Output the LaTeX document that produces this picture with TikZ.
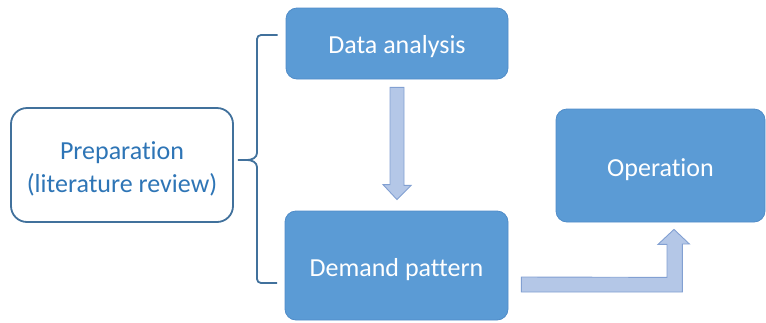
\documentclass[tikz,border=0pt]{standalone}
\usepackage{fontspec}
\setmainfont{Carlito}[Ligatures=NoCommon]
\usetikzlibrary{calc}
\definecolor{boxfill}{RGB}{91,155,213}
\definecolor{boxline}{RGB}{80,140,200}
\definecolor{darkline}{RGB}{65,113,156}
\definecolor{preptext}{RGB}{46,117,182}
\definecolor{arrowfill}{RGB}{180,199,231}
\definecolor{arrowline}{RGB}{130,160,210}
\newcommand{\lowerby}[2]{\raisebox{-#1}[\height][\depth]{#2}}
\begin{document}
\begin{tikzpicture}[x=1pt,y=-1pt,
  bluebox/.style={draw=boxline,line width=0.8pt,fill=boxfill,rounded corners=11pt,text=white,font=\fontsize{26}{30}\selectfont,inner sep=0pt},
  prepbox/.style={draw=darkline,line width=1.8pt,fill=white,rounded corners=16pt,text=preptext,font=\fontsize{26}{33}\selectfont,inner sep=0pt},
  blockarrow/.style={draw=arrowline,line width=0.9pt,fill=arrowfill},
  bracket/.style={draw=darkline,line width=1.8pt}]
\useasboundingbox (0,0) rectangle (766,322);
\node[prepbox,minimum width=222pt,minimum height=114pt] (prep) at (122,165) {\lowerby{4pt}{\begin{tabular}{@{}c@{}}Preparation\\(literature review)\end{tabular}}};
\node[bluebox,minimum width=222pt,minimum height=71pt] (data) at (397,43.5) {\lowerby{3pt}{Data analysis}};
\node[bluebox,minimum width=223pt,minimum height=109pt] (demand) at (396.5,265.5) {\lowerby{4pt}{Demand pattern}};
\node[bluebox,minimum width=209pt,minimum height=113pt] (oper) at (660.5,165.5) {\lowerby{4pt}{Operation}};
% bracket
\coordinate (tip) at ($(prep.east)+(4,-5)$);
\draw[bracket] ($(data.west)+(-8,-8.5)$) -- (261,35) to[out=180,in=90] (257,39) -- (257,153)
  to[out=-90,in=0] (247,160) -- (tip);
\draw[bracket] ($(demand.west)+(-7.5,17.5)$) -- (261,283) to[out=180,in=-90] (257,279) -- (257,167)
  to[out=90,in=0] (247,160);
% down arrow
\draw[blockarrow] ($(data.south)+(-7,8)$) -- ++(14,0) -- ++(0,98) -- ++(7,0)
  -- ($(demand.north)+(0.5,-11)$) -- ++(-14,-15) -- ++(7,0) -- cycle;
% bent arrow
\draw[blockarrow] ($(demand.east)+(13,11.5)$) -- ++(0,15) -- ++(161,0) -- ++(0,-48)
  -- ++(7,0) -- ($(oper.south)+(13.5,7)$) -- ++(-16,15) -- ++(9,0) -- ++(0,33) -- cycle;
\end{tikzpicture}
\end{document}
